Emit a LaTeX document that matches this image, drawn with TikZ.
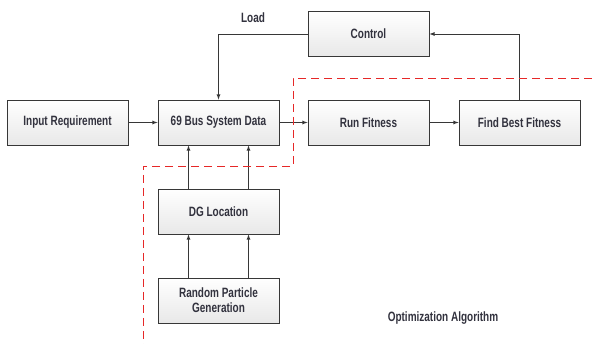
\documentclass[tikz,border=0pt]{standalone}
\usepackage{fontspec}
\setmainfont[FakeStretch=0.74]{Liberation Sans}
\usetikzlibrary{arrows}
\definecolor{txtgray}{RGB}{50,50,62}
\definecolor{boxline}{RGB}{55,55,55}
\definecolor{dashred}{RGB}{230,40,40}

\begin{document}
\begin{tikzpicture}[x=1pt,y=-1pt,
  blk/.style={draw=boxline,thick,top color=white,bottom color=gray!18,
    minimum width=121pt,minimum height=45pt,align=center,
    text=txtgray,font=\bfseries\fontsize{13.5}{15}\selectfont},
  lbl/.style={text=txtgray,font=\bfseries\fontsize{13.5}{15}\selectfont},
  conn/.style={-latex,thick,draw=boxline}]

\useasboundingbox[fill=white] (0,0) rectangle (592,344);

\node [blk] (input) at (67.5,122.5) {Input Requirement};
\node [blk] (bus) at (218.5,122.5) {69 Bus System Data};
\node [blk] (control) at (368.5,34) {Control};
\node [blk] (run) at (368.5,122.5) {Run Fitness};
\node [blk] (best) at (519.5,122.5) {Find Best Fitness};
\node [blk] (dg) at (218.5,211.5) {DG Location};
\node [blk] (rand) at (218.5,300.5) {Random Particle\\Generation};

\node [lbl] (loadlbl) at (253,18) {Load};
\node [lbl] (optlbl) at (443,318) {Optimization Algorithm};

\draw[conn] (input) -- (bus);
\draw[conn] (bus) -- (run);
\draw[conn] (run) -- (best);
\draw[conn] (control.west) -| (bus.north);
\draw[conn] (best.north) |- (control.east);

\draw[conn] ([xshift=-30pt]dg.north) -- ([xshift=-30pt]bus.south);
\draw[conn] ([xshift=30pt]dg.north) -- ([xshift=30pt]bus.south);
\draw[conn] ([xshift=-30pt]rand.north) -- ([xshift=-30pt]dg.south);
\draw[conn] ([xshift=30pt]rand.north) -- ([xshift=30pt]dg.south);

% boundary of the optimisation part
\draw[dashred,thick,dash pattern=on 8pt off 5pt]
  (592,78) -- (293,78) -- (293,166) -- (143,166) -- (143,344);

\end{tikzpicture}
\end{document}
